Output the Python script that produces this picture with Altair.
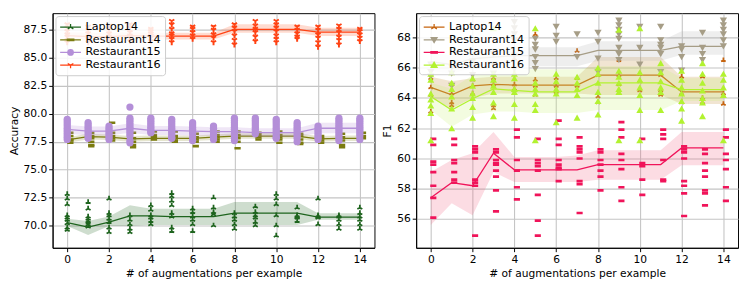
import altair as alt
import pandas as pd

X = list(range(15))
NAMES = ["Laptop14", "Restaurant14", "Restaurant15", "Restaurant16"]

# ---------------- Accuracy panel (left) ----------------
ACC_L14_MEAN = [70.25, 69.85, 70.3, 70.85, 70.85, 70.8, 70.8, 70.8, 71.1, 71.1, 71.1, 71.1, 70.75, 70.75, 70.75]
ACC_L14_LO = [69.95, 69.15, 69.95, 69.95, 70.05, 70.05, 70.05, 70.05, 70.05, 70.05, 70.05, 70.05, 70.5, 70.5, 70.5]
ACC_L14_HI = [70.6, 70.4, 70.8, 71.8, 71.5, 71.5, 71.5, 71.5, 72.1, 72.1, 72.1, 72.1, 71.1, 71.1, 71.1]
ACC_L14_PTS = [
    [72.8, 72.4, 71.9, 70.9, 70.7, 70.5, 70.2, 69.8, 69.6],
    [72.1, 71.5, 70.8, 70.6, 70.4, 70.3, 70.1, 69.9],
    [72.4, 71.1, 70.9, 70.6, 70.3, 69.8, 69.4],
    [70.9, 70.5, 70.1, 69.7, 69.4],
    [71.8, 71.4, 70.9, 70.7, 70.4, 70.1],
    [72.9, 72.6, 72.2, 71.8, 71.1, 70.8, 69.8, 69.5],
    [71.5, 71.2, 70.8, 70.5, 70.1, 69.5],
    [72.5, 71.6, 71.2, 71.0, 70.0],
    [71.1, 70.8, 70.5, 70.1, 69.7],
    [71.7, 71.2, 70.9, 70.7, 70.3, 70.0],
    [72.8, 72.4, 71.9, 70.9, 70.0, 69.1],
    [71.6, 70.9, 70.8, 70.7, 70.4],
    [72.4, 70.9, 70.8, 70.7, 70.1],
    [70.9, 70.8, 70.5, 70.1, 69.7],
    [71.6, 71.1, 70.8, 70.5, 70.1, 69.7],
]

ACC_R14_MEAN = [77.65, 77.95, 77.9, 77.75, 77.8, 77.8, 77.8, 77.9, 78.0, 78.0, 78.0, 78.0, 77.75, 77.8, 77.8]
ACC_R14_LO = [77.4, 77.7, 77.65, 77.5, 77.55, 77.55, 77.55, 77.65, 77.75, 77.75, 77.75, 77.75, 77.5, 77.55, 77.55]
ACC_R14_HI = [77.9, 78.2, 78.15, 78.0, 78.05, 78.05, 78.05, 78.15, 78.25, 78.25, 78.25, 78.25, 78.0, 78.05, 78.05]
ACC_R14_PTS = [
    [78.3, 78.0, 77.7, 77.6, 77.4],
    [78.3, 78.0, 77.8, 77.5, 77.2, 77.1],
    [79.2, 78.3, 78.0, 77.8, 77.6],
    [78.3, 77.8, 77.5, 77.2, 77.0],
    [78.4, 78.1, 77.9, 77.7],
    [78.4, 78.0, 77.8, 77.6, 77.5],
    [78.2, 77.9, 77.7, 77.5, 77.1],
    [78.4, 78.1, 77.9, 77.7, 77.5],
    [78.4, 78.1, 77.8, 77.5, 76.9],
    [78.3, 78.1, 77.9, 77.7],
    [78.4, 78.1, 77.9, 77.7, 77.4],
    [78.2, 78.0, 77.7, 77.4, 77.3],
    [78.0, 77.8, 77.6, 77.4],
    [78.2, 77.9, 77.6, 77.2, 77.0],
    [78.3, 78.0, 77.8],
]

ACC_R15_MEAN = [78.6, 78.45, 78.45, 78.7, 78.5, 78.5, 78.45, 78.4, 78.4, 78.3, 78.3, 78.3, 78.7, 78.7, 78.7]
ACC_R15_LO = [78.2, 78.05, 78.05, 78.3, 78.1, 78.1, 78.05, 78.0, 78.0, 77.95, 77.95, 77.95, 78.25, 78.25, 78.25]
ACC_R15_HI = [79.0, 78.85, 78.85, 79.15, 78.9, 78.9, 78.85, 78.8, 78.8, 78.7, 78.7, 78.7, 79.2, 79.2, 79.2]
ACC_R15_PTS = [
    [79.5, 79.3, 79.1, 78.9, 78.7, 78.5, 78.3, 78.1, 77.9, 77.7],
    [79.2, 79.0, 78.8, 78.6, 78.4, 78.2, 78.0, 77.8],
    [78.9, 78.7, 78.5, 78.3, 78.1, 77.9, 77.7],
    [80.6, 79.6, 79.4, 79.2, 79.0, 78.8, 78.6, 78.4, 78.2, 78.0, 77.6, 77.4],
    [79.6, 79.4, 79.2, 79.0, 78.8, 78.6, 78.4, 78.3],
    [79.5, 79.3, 79.1, 78.9, 78.7, 78.5, 78.3, 78.1, 77.9, 77.8],
    [79.2, 79.0, 78.8, 78.6, 78.4, 78.2, 77.9, 77.6],
    [78.9, 78.7, 78.5, 78.3, 78.1, 77.9, 77.7],
    [79.6, 79.4, 79.2, 79.0, 78.8, 78.6, 78.4, 78.2, 78.0, 77.8, 77.6],
    [79.6, 79.4, 79.2, 79.0, 78.8, 78.6, 78.4, 78.2],
    [79.5, 79.3, 79.1, 78.9, 78.7, 78.5, 78.3, 78.1, 77.9, 77.8],
    [79.2, 79.0, 78.8, 78.6, 78.4, 78.2, 78.0, 77.8, 77.5],
    [78.9, 78.7, 78.5, 78.3, 78.1, 77.9, 77.7],
    [79.6, 79.4, 79.2, 79.0, 78.8, 78.6, 78.4, 78.2, 78.0, 77.8, 77.6],
    [79.6, 79.4, 79.2, 79.0, 78.8, 78.6, 78.4, 78.2, 78.0, 77.7],
]

ACC_R16_MEAN = [87.0, 86.9, 86.9, 87.0, 86.95, 86.95, 86.95, 86.95, 87.55, 87.55, 87.55, 87.55, 87.3, 87.3, 87.3]
ACC_R16_LO = [86.65, 86.6, 86.6, 86.65, 86.65, 86.65, 86.65, 86.65, 87.25, 87.25, 87.25, 87.25, 86.95, 86.95, 86.95]
ACC_R16_HI = [87.3, 87.25, 87.25, 87.3, 87.25, 87.25, 87.25, 87.25, 88.0, 88.0, 88.0, 88.0, 87.7, 87.7, 87.7]
ACC_R16_PTS = [
    [88.0, 87.7, 87.4, 87.1, 86.9, 86.6, 86.4],
    [87.8, 87.5, 87.2, 86.9, 86.7, 86.4],
    [87.9, 87.6, 87.2, 86.9, 86.6],
    [88.0, 87.7, 87.3, 87.0, 86.8, 86.5],
    [87.6, 87.4, 87.2, 87.0, 86.8, 86.5],
    [88.3, 88.0, 87.6, 87.2, 87.0, 86.7, 86.4],
    [87.8, 87.6, 87.3, 87.0, 86.7],
    [87.8, 87.5, 87.1, 86.8, 86.4],
    [88.0, 87.7, 87.4, 87.0, 86.6, 86.2],
    [88.3, 87.9, 87.6, 87.3, 86.9, 86.5],
    [88.3, 88.0, 87.7, 87.4, 87.0, 86.7, 86.4],
    [87.8, 87.5, 87.2, 86.9, 86.7],
    [87.8, 87.5, 87.1, 86.8, 86.4, 86.0],
    [87.9, 87.6, 87.3, 86.9, 86.6, 86.2],
    [87.6, 87.4, 87.1, 86.8, 86.5],
]

# ---------------- F1 panel (right) ----------------
F1_L14_MEAN = [64.7, 64.2, 64.8, 64.9, 64.85, 64.85, 64.85, 64.85, 65.5, 65.5, 65.5, 65.5, 64.4, 64.4, 64.4]
F1_L14_LO = [64.0, 63.3, 64.0, 64.3, 64.3, 64.3, 64.3, 64.3, 64.2, 64.2, 64.2, 64.2, 63.6, 63.6, 63.6]
F1_L14_HI = [65.4, 65.1, 65.3, 65.4, 65.4, 65.4, 65.4, 65.4, 66.7, 66.7, 66.7, 66.7, 65.4, 65.4, 65.4]
F1_L14_PTS = [
    [65.3, 64.7, 64.2, 63.1],
    [64.9, 64.3, 63.7, 63.5],
    [65.2, 64.8, 64.3],
    [65.3, 64.9, 63.5, 63.3],
    [66.6, 65.6, 64.9, 64.6],
    [68.2, 65.2, 64.8, 64.2],
    [65.3, 64.8, 64.4],
    [67.1, 65.3, 64.8],
    [65.5, 64.1, 63.7],
    [66.5, 65.5, 64.9],
    [65.6, 65.1, 64.5],
    [65.5, 64.5, 64.2],
    [65.4, 64.3, 63.7],
    [65.4, 64.0, 63.7],
    [66.5, 64.3, 63.6],
]

F1_R14_MEAN = [66.4, 66.2, 66.6, 66.7, 66.8, 66.8, 66.8, 66.8, 67.15, 67.15, 67.15, 67.15, 67.4, 67.4, 67.4]
F1_R14_LO = [65.8, 65.6, 66.0, 66.1, 66.1, 66.1, 66.1, 66.1, 66.45, 66.45, 66.45, 66.45, 66.85, 66.85, 66.85]
F1_R14_HI = [67.0, 66.8, 67.2, 67.3, 67.35, 67.35, 67.35, 67.35, 67.75, 67.75, 67.75, 67.75, 68.4, 68.4, 68.4]
F1_R14_PTS = [
    [66.2, 65.7, 65.4],
    [66.0, 65.6, 64.8],
    [66.4, 65.5],
    [66.9, 66.2, 65.6],
    [69.0, 68.6, 68.2, 67.8, 66.8, 65.9],
    [67.9, 67.5, 67.2, 66.7, 66.3, 65.9],
    [68.7, 68.1, 67.7],
    [68.2, 66.7],
    [68.3, 67.7, 66.6, 65.7],
    [69.1, 68.8, 68.5, 68.2, 67.9, 67.3, 66.9, 66.5],
    [68.7, 67.3, 66.2],
    [68.7, 67.8, 67.5, 67.3, 66.9, 65.7],
    [67.4, 67.2, 66.7, 65.8],
    [68.3, 67.3, 66.9, 66.5],
    [69.1, 68.8, 68.5, 68.2, 67.8, 67.4],
]

F1_R15_MEAN = [57.4, 58.4, 58.2, 60.35, 59.25, 59.25, 59.25, 59.25, 59.6, 59.6, 59.6, 59.6, 60.7, 60.7, 60.7]
F1_R15_LO = [55.6, 57.05, 56.25, 59.1, 58.45, 58.45, 58.45, 58.45, 58.6, 58.6, 58.6, 58.6, 59.55, 59.55, 59.55]
F1_R15_HI = [59.1, 59.9, 60.35, 61.75, 60.1, 60.1, 60.1, 60.2, 60.55, 60.55, 60.55, 60.55, 61.75, 61.75, 61.75]
F1_R15_PTS = [
    [61.3, 60.9, 59.8, 59.6, 59.1, 58.2, 57.4, 56.1],
    [61.3, 60.9, 59.9, 59.7, 59.1, 58.6, 58.4],
    [60.8, 60.6, 60.4, 60.0, 58.6, 58.4, 58.2, 54.9],
    [60.6, 60.4, 59.9, 59.7, 59.6, 59.2, 58.8, 57.9, 56.5],
    [61.9, 61.4, 59.9, 59.2, 58.1, 57.3],
    [61.3, 59.9, 59.7, 59.5, 59.2, 57.6, 55.9, 54.9],
    [62.5, 61.3, 60.9, 59.9, 59.6, 59.4, 59.3, 58.5],
    [61.4, 60.8, 60.6, 60.4, 60.0, 58.5, 58.3, 56.4],
    [60.6, 60.4, 59.9, 59.6, 59.2, 58.8, 57.9],
    [62.4, 61.9, 61.4, 60.3, 59.9, 59.3, 58.1, 57.2],
    [61.3, 59.7, 59.5, 58.6, 57.6],
    [61.9, 61.6, 61.3, 59.9, 58.6, 58.5],
    [60.8, 60.6, 60.4, 60.0, 58.5, 58.2, 57.7, 56.2],
    [60.6, 60.3, 59.7, 59.2, 58.8, 57.9, 57.7, 56.9],
    [61.9, 61.4, 60.3, 59.9, 59.3, 58.1, 57.2],
]

F1_R16_MEAN = [64.1, 63.2, 63.95, 64.6, 64.5, 64.4, 64.4, 64.4, 65.0, 65.0, 65.0, 65.0, 64.55, 64.55, 64.55]
F1_R16_LO = [63.2, 62.1, 62.9, 63.1, 63.1, 63.0, 63.0, 63.0, 63.2, 63.2, 63.2, 63.2, 63.8, 63.8, 63.8]
F1_R16_HI = [65.0, 64.6, 65.5, 65.9, 65.9, 65.9, 65.9, 65.9, 66.1, 66.1, 66.1, 66.1, 65.3, 65.3, 65.3]
F1_R16_PTS = [
    [65.6, 65.2, 64.3, 63.9, 63.5, 63.0, 61.2],
    [65.7, 65.0, 64.6, 64.1, 63.3, 62.0],
    [65.3, 64.8, 64.3, 64.0, 63.4, 62.7],
    [68.6, 65.6, 65.2, 64.8, 64.4, 63.7, 62.8],
    [65.6, 65.3, 64.6, 64.4, 63.6, 62.7],
    [68.6, 65.0, 64.6, 64.3, 63.6, 63.2, 61.2],
    [65.6, 65.1, 64.6, 64.3, 62.4],
    [65.4, 65.0, 64.6, 64.2, 62.7],
    [66.0, 65.6, 65.0, 64.4, 63.8, 62.9],
    [68.5, 65.8, 65.4, 65.0, 64.6, 64.4, 61.2],
    [68.6, 65.7, 65.2, 64.7, 64.2, 63.2, 61.2],
    [66.3, 65.7, 65.1, 64.7, 64.4, 63.2],
    [65.8, 65.2, 64.7, 64.3, 63.8, 63.3, 62.5],
    [66.3, 65.6, 65.0, 64.5, 64.0, 63.7, 62.8],
    [65.6, 65.2, 64.7, 64.2, 61.2],
]

X_TICKS = [0, 2, 4, 6, 8, 10, 12, 14]
ACC_TICKS = [70.0, 72.5, 75.0, 77.5, 80.0, 82.5, 85.0, 87.5]
F1_TICKS = [56, 58, 60, 62, 64, 66, 68]

FONT = "DejaVu Sans"

# marker shapes (unit coords)
TRI_UP = "M0,0L0,-1M0,0L-0.87,0.5M0,0L0.87,0.5"
TRI_DOWN = "M0,0L0,1M0,0L-0.87,-0.5M0,0L0.87,-0.5"

# legend symbols: short line + marker (marker centred at x=0.6)
LG_TRI_UP = "M-1,0L2.2,0M0.6,0L0.6,-0.5M0.6,0L0.17,0.25M0.6,0L1.03,0.25"
LG_TRI_DOWN = "M-1,0L2.2,0M0.6,0L0.6,0.5M0.6,0L0.17,-0.25M0.6,0L1.03,-0.25"
LG_BAR = "M-1,0L2.2,0M0.1,-0.12L1.1,-0.12L1.1,0.12L0.1,0.12Z"
LG_CIRCLE = "M-1,0L2.2,0M0.18,0A0.42,0.42,0,1,0,1.02,0A0.42,0.42,0,1,0,0.18,0Z"
LG_TRI_DN_FILL = "M-1,0L2.2,0M0.15,-0.35L1.05,-0.35L0.6,0.42Z"
LG_TRI_UP_FILL = "M-1,0L2.2,0M0.15,0.35L1.05,0.35L0.6,-0.42Z"

ACC_SPECS = [
    # name, mean, lo, hi, pts, color, marker, filled, size, strokeWidth, xoffset, legend symbol
    ("Laptop14", ACC_L14_MEAN, ACC_L14_LO, ACC_L14_HI, ACC_L14_PTS, "#1e641e", TRI_UP, False, 34, 1.8, 0.0, LG_TRI_UP),
    ("Restaurant14", ACC_R14_MEAN, ACC_R14_LO, ACC_R14_HI, ACC_R14_PTS, "#7b7b10", "stroke", False, 42, 2.6, 0.15, LG_BAR),
    ("Restaurant15", ACC_R15_MEAN, ACC_R15_LO, ACC_R15_HI, ACC_R15_PTS, "#b48fd8", "circle", True, 56, 0, 0.0, LG_CIRCLE),
    ("Restaurant16", ACC_R16_MEAN, ACC_R16_LO, ACC_R16_HI, ACC_R16_PTS, "#ff4213", TRI_DOWN, False, 38, 2.0, 0.0, LG_TRI_DOWN),
]
F1_SPECS = [
    ("Laptop14", F1_L14_MEAN, F1_L14_LO, F1_L14_HI, F1_L14_PTS, "#c6640f", TRI_UP, False, 30, 1.8, 0.0, LG_TRI_UP),
    ("Restaurant14", F1_R14_MEAN, F1_R14_LO, F1_R14_HI, F1_R14_PTS, "#a69d86", "triangle-down", True, 56, 0, 0.0, LG_TRI_DN_FILL),
    ("Restaurant15", F1_R15_MEAN, F1_R15_LO, F1_R15_HI, F1_R15_PTS, "#f0145a", "stroke", False, 40, 2.8, 0.12, LG_BAR),
    ("Restaurant16", F1_R16_MEAN, F1_R16_LO, F1_R16_HI, F1_R16_PTS, "#b2f230", "triangle-up", True, 52, 0, 0.0, LG_TRI_UP_FILL),
]
BAND_COLORS = {
    "acc": ["#1e641e", "#8a8a20", "#b48fd8", "#ff5a2a"],
    "f1": ["#c08a30", "#b0b0b0", "#f06080", "#c8f070"],
}

W, H = 332, 242
XSCALE = alt.Scale(domain=[-0.7, 14.7], nice=False, zero=False)


def panel(specs, band_colors, ydomain, yticks, ytitle, yfmt):
    yscale = alt.Scale(domain=ydomain, nice=False, zero=False)
    xaxis = alt.Axis(values=X_TICKS, title="# of augmentations per example", format="d", labelOverlap=False)
    yaxis = alt.Axis(values=yticks, title=ytitle, format=yfmt, labelOverlap=False, tickCount=len(yticks))
    layers = []
    for (name, mean, lo, hi, pts, color, marker, filled, size, sw, xoff, _), bc in zip(specs, band_colors):
        ldf = pd.DataFrame({"x": X, "m": mean, "lo": lo, "hi": hi})
        rows = []
        for xi, vals in zip(X, pts):
            for v in vals:
                rows.append({"xs": xi + xoff, "v": v})
        pdf = pd.DataFrame(rows)
        band = alt.Chart(ldf).mark_area(color=bc, opacity=0.22, clip=True).encode(
            x=alt.X("x:Q", scale=XSCALE, axis=xaxis),
            y=alt.Y("lo:Q", scale=yscale, axis=yaxis),
            y2="hi:Q",
        )
        if filled:
            pmark = alt.Chart(pdf).mark_point(shape=marker, filled=True, color=color, size=size, opacity=1, clip=True)
        else:
            pmark = alt.Chart(pdf).mark_point(shape=marker, filled=False, color=color, size=size,
                                              strokeWidth=sw, opacity=1, clip=True)
        pts_layer = pmark.encode(x=alt.X("xs:Q", scale=XSCALE, axis=xaxis),
                                 y=alt.Y("v:Q", scale=yscale, axis=yaxis))
        line = alt.Chart(ldf).mark_line(color=color, strokeWidth=1.3, clip=True).encode(
            x=alt.X("x:Q", scale=XSCALE, axis=xaxis), y=alt.Y("m:Q", scale=yscale, axis=yaxis)
        )
        layers += [band, pts_layer, line]

    names = [s[0] for s in specs]
    colors = [s[5] for s in specs]
    lsyms = [s[11] for s in specs]
    leg = alt.Legend(orient="top-left", title=None, fillColor="rgba(255,255,255,0.85)",
                     strokeColor="#cccccc", padding=4, cornerRadius=3, offset=3,
                     labelFont=FONT, labelFontSize=11.5, labelColor="black",
                     symbolSize=180, symbolStrokeWidth=1.3, rowPadding=0, labelOffset=12)
    ldata = pd.DataFrame({"name": names, "x": [0] * 4, "y": [ydomain[0]] * 4})
    legend_layer = alt.Chart(ldata).transform_filter("false").mark_point(filled=True, opacity=1).encode(
        x=alt.X("x:Q", scale=XSCALE, axis=xaxis),
        y=alt.Y("y:Q", scale=yscale, axis=yaxis),
        fill=alt.Fill("name:N", scale=alt.Scale(domain=names, range=colors), legend=leg, sort=names),
        stroke=alt.Stroke("name:N", scale=alt.Scale(domain=names, range=colors), legend=leg, sort=names),
        shape=alt.Shape("name:N", scale=alt.Scale(domain=names, range=lsyms), legend=leg, sort=names),
    )
    layers.append(legend_layer)
    return alt.layer(*layers).properties(width=W, height=H)


left = panel(ACC_SPECS, BAND_COLORS["acc"], [68.0, 89.0], ACC_TICKS, "Accuracy", ".1f")
right = panel(F1_SPECS, BAND_COLORS["f1"], [54.1, 69.6], F1_TICKS, "F1", "d")

chart = alt.hconcat(left, right, spacing=6).resolve_scale(
    fill="independent", stroke="independent", shape="independent", y="independent"
).properties(padding=0).configure_axis(
    labelFont=FONT, titleFont=FONT, labelFontSize=11, titleFontSize=11,
    titleFontWeight="normal", labelColor="black", titleColor="black",
    domainColor="black", tickColor="black", tickSize=4, gridColor="#c4c4c4",
    gridWidth=1.1, labelPadding=2, titlePadding=4, labelOverlap=False,
).configure_view(stroke="black", strokeWidth=1)

chart.save("out.html", embed_options={"renderer": "svg", "actions": False})
